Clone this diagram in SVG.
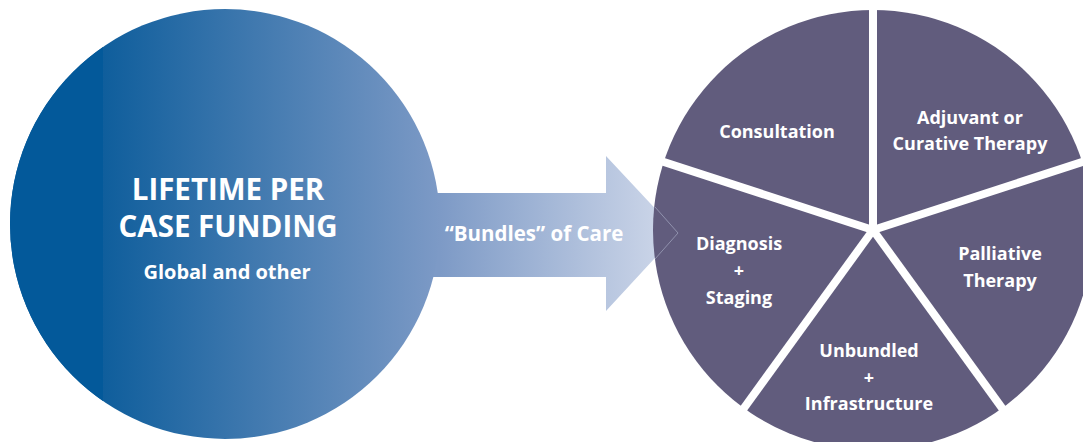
<svg xmlns="http://www.w3.org/2000/svg" width="1083" height="442" viewBox="0 0 1083 442">
  <defs>
    <linearGradient id="gCircle" gradientUnits="userSpaceOnUse" x1="103" y1="0" x2="440" y2="0">
      <stop offset="0" stop-color="#0f5e9c"/>
      <stop offset="1" stop-color="#7d9ac6"/>
    </linearGradient>
    <linearGradient id="gArrow" gradientUnits="userSpaceOnUse" x1="440" y1="0" x2="680" y2="0">
      <stop offset="0" stop-color="#7d9ac6"/>
      <stop offset="1" stop-color="#d2daeb"/>
    </linearGradient>
    <clipPath id="leftBand">
      <rect x="0" y="0" width="103" height="442"/>
    </clipPath>
    <style>
      .t { font-family: "Open Sans", "Liberation Sans", sans-serif; font-weight: 700; fill: #ffffff; text-anchor: middle; }
      .pie { font-size: 18px; }
      .gap { stroke: #ffffff; stroke-width: 8; stroke-linecap: butt; }
    </style>
  </defs>
  <rect width="1083" height="442" fill="#ffffff"/>

  <g id="arrow">
    <polygon points="430,193 606,193 606,156 678,233 606,311 606,277 430,277" fill="url(#gArrow)"/>
    <text class="t" x="534" y="241" font-size="20.5">“Bundles” of Care</text>
  </g>

  <g id="funding">
    <circle cx="225" cy="224" r="215" fill="url(#gCircle)"/>
    <circle cx="225" cy="224" r="215" fill="#03599a" clip-path="url(#leftBand)"/>
    <text class="t" x="228" y="200" font-size="29.5">LIFETIME PER</text>
    <text class="t" x="228" y="237" font-size="29.5">CASE FUNDING</text>
    <text class="t" x="227" y="279" font-size="20">Global and other</text>
  </g>

  <g id="pie">
    <circle cx="873" cy="230" r="220" fill="#615c7d"/>
  </g>

  <g id="connectors">
    <line class="gap" x1="873" y1="230" x2="873" y2="0"/>
    <line class="gap" x1="873" y1="230" x2="1116" y2="151"/>
    <line class="gap" x1="873" y1="230" x2="1023" y2="437"/>
    <line class="gap" x1="873" y1="230" x2="723" y2="437"/>
    <line class="gap" x1="873" y1="230" x2="630" y2="151"/>
    <polyline points="655,207 678,233 655,259" fill="none" stroke="#c4cce2" stroke-opacity="0.6" stroke-width="0.8"/>
  </g>

  <g id="consultation">
    <text class="t pie" x="777" y="138">Consultation</text>
  </g>
  <g id="adjuvant">
    <text class="t pie" x="970" y="124">Adjuvant or</text>
    <text class="t pie" x="970" y="150">Curative Therapy</text>
  </g>
  <g id="palliative">
    <text class="t pie" x="1000" y="260">Palliative</text>
    <text class="t pie" x="1000" y="287">Therapy</text>
  </g>
  <g id="diagnosis">
    <text class="t pie" x="739" y="250">Diagnosis</text>
    <text class="t pie" x="739" y="277">+</text>
    <text class="t pie" x="739" y="304">Staging</text>
  </g>
  <g id="unbundled">
    <text class="t pie" x="869" y="357">Unbundled</text>
    <text class="t pie" x="869" y="384">+</text>
    <text class="t pie" x="869" y="410">Infrastructure</text>
  </g>
</svg>
